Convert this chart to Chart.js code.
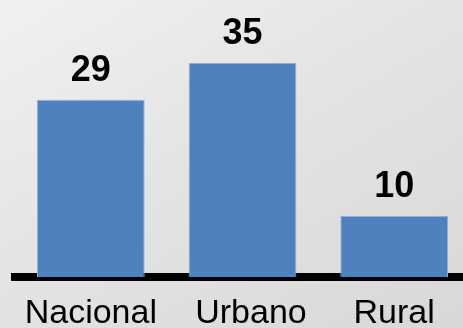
<!DOCTYPE html>
<html>
<head>
<meta charset="utf-8">
<script src="https://cdn.jsdelivr.net/npm/chart.js@4"></script>
<style>
  html, body {
    margin: 0;
    padding: 0;
    width: 463px;
    height: 328px;
    overflow: hidden;
  }
  body {
    background: linear-gradient(150deg, #f1f1f1 0%, #e4e4e4 45%, #d8d8d8 100%);
  }
  #wrap {
    width: 472px;
    height: 328px;
  }
</style>
</head>
<body>
<div id="wrap"><canvas id="chart" width="472" height="328"></canvas></div>
<script>
const categories = ["Nacional", "Urbano", "Rural"];
const values = [29, 35, 10];
const yMin = 0;
const yMax = 45;

// writes each bar's value in bold just above its top edge
const valueLabels = {
  id: "valueLabels",
  afterDatasetsDraw(chart) {
    const ctx = chart.ctx;
    const meta = chart.getDatasetMeta(0);
    ctx.save();
    ctx.font = "bold 36px 'Liberation Sans', Arial, sans-serif";
    ctx.fillStyle = "#000";
    ctx.textAlign = "center";
    ctx.textBaseline = "alphabetic";
    meta.data.forEach(function (bar, i) {
      ctx.fillText(String(chart.data.datasets[0].data[i]), bar.x, bar.y - 19);
    });
    ctx.restore();
  }
};

const ctx = document.getElementById("chart").getContext("2d");
new Chart(ctx, {
  type: "bar",
  data: {
    labels: categories,
    datasets: [{
      data: values,
      backgroundColor: "#4f81bd",
      borderColor: "#8fb0da",
      borderWidth: 1,
      barPercentage: 0.71,
      categoryPercentage: 1
    }]
  },
  options: {
    responsive: false,
    animation: false,
    layout: {
      padding: { top: 2, left: 15, right: 2, bottom: 0 }
    },
    plugins: {
      legend: { display: false },
      tooltip: { enabled: false }
    },
    scales: {
      x: {
        z: 1,
        grid: { display: false, drawTicks: false },
        border: { display: true, color: "#000", width: 8 },
        afterFit: function (scale) {
          scale.height = 51;
        },
        ticks: {
          color: "#000",
          padding: 20,
          maxRotation: 0,
          font: { family: "'Liberation Sans', Arial, sans-serif", size: 34, lineHeight: 1 },
          callback: function (value, index) {
            // the middle label sits a little right of its bar
            return (index === 1 ? "\u2002" : "") + categories[index];
          }
        }
      },
      y: {
        display: false,
        min: yMin,
        max: yMax
      }
    }
  },
  plugins: [valueLabels]
});
</script>
</body>
</html>
